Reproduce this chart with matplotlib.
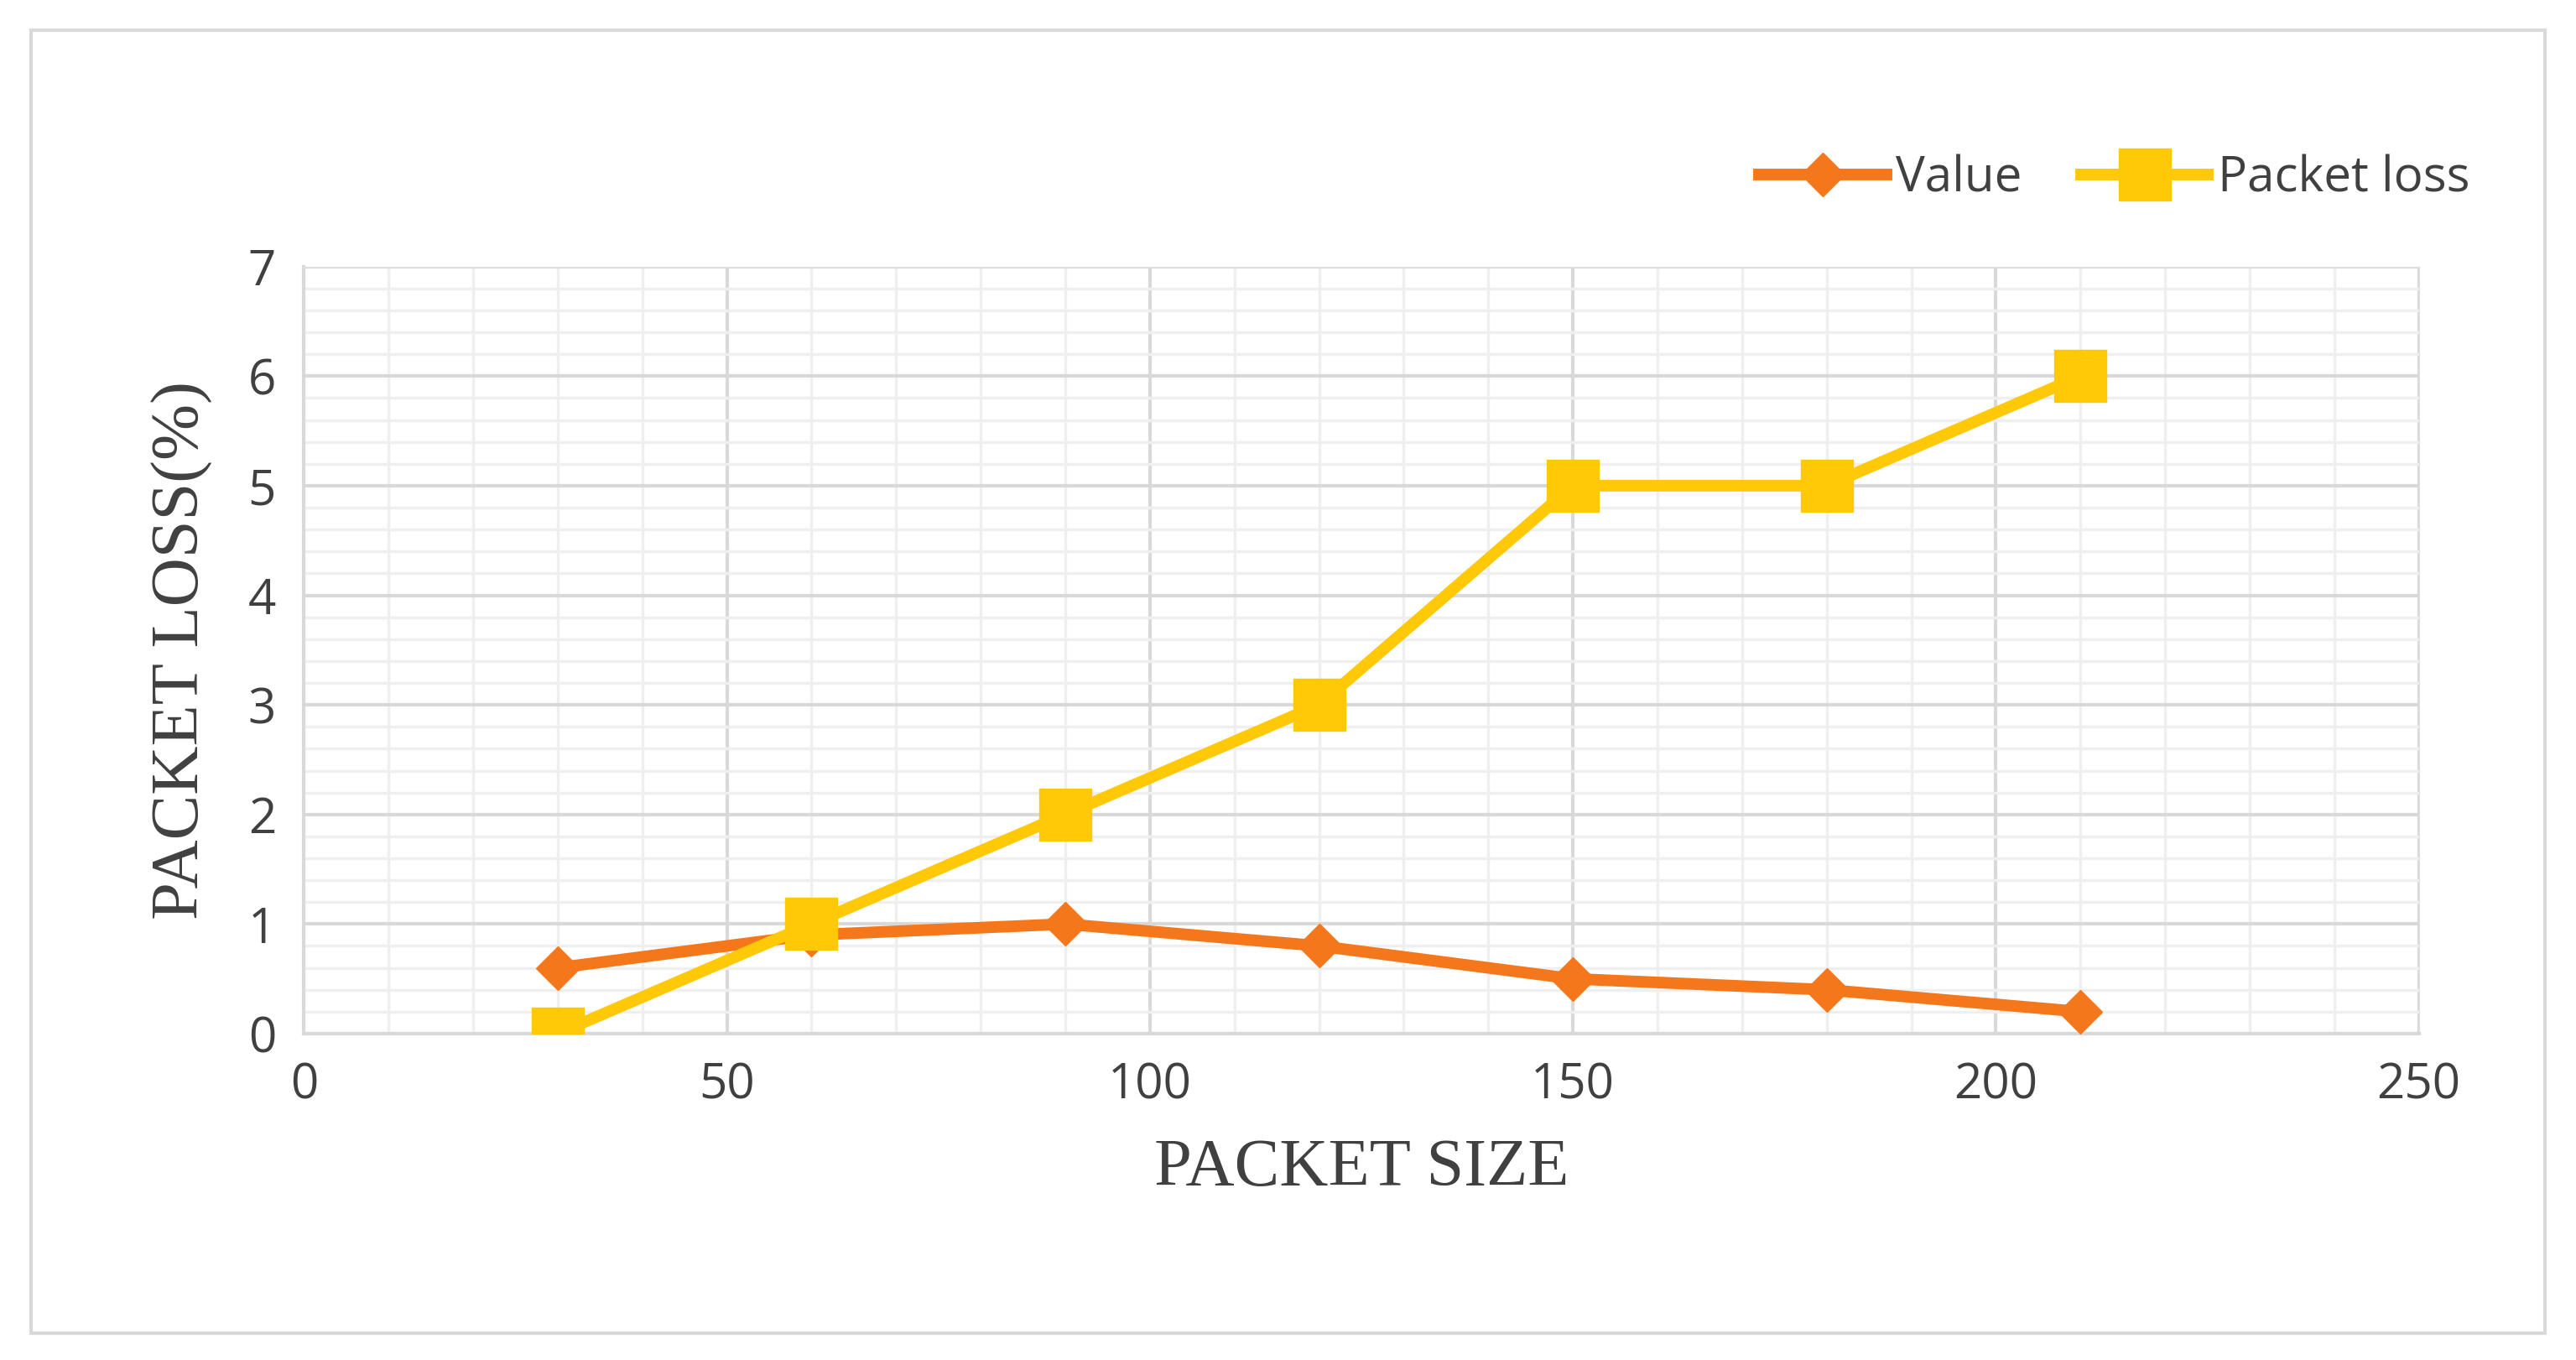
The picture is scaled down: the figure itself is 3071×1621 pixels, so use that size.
import matplotlib.pyplot as plt
from matplotlib.patches import Rectangle
from matplotlib.ticker import MultipleLocator

packet_size = [30, 60, 90, 120, 150, 180, 210]
value = [0.6, 0.9, 1.0, 0.8, 0.5, 0.4, 0.2]
packet_loss = [0, 1, 2, 3, 5, 5, 6]

fig = plt.figure(figsize=(30.71, 16.21), dpi=100)
fig.patches.append(Rectangle((0.012, 0.02), 0.976, 0.958, transform=fig.transFigure,
                             fill=False, edgecolor='#d9d9d9', lw=3))
ax = fig.add_axes([0.118, 0.240, 0.821, 0.564])

ax.plot(packet_size, value, '-D', color='#F5771B', lw=10, ms=26, label='Value', zorder=3)
ax.plot(packet_size, packet_loss, '-s', color='#FFC907', lw=10, ms=44, label='Packet loss', zorder=4)

ax.set_xlim(0, 250)
ax.set_ylim(0, 7)
ax.xaxis.set_major_locator(MultipleLocator(50))
ax.xaxis.set_minor_locator(MultipleLocator(10))
ax.yaxis.set_major_locator(MultipleLocator(1))
ax.yaxis.set_minor_locator(MultipleLocator(0.2))
ax.grid(True, which='major', color='#d9d9d9', lw=3)
ax.grid(True, which='minor', color='#efefef', lw=2.5)
ax.set_axisbelow(True)
for s in ['top', 'right']:
    ax.spines[s].set_color('#e0e0e0')
for s in ['left', 'bottom']:
    ax.spines[s].set_color('#d9d9d9')
    ax.spines[s].set_linewidth(3)
ax.tick_params(which='both', length=0, labelsize=42, labelcolor='#404040', pad=24)
for t in ax.get_xticklabels() + ax.get_yticklabels():
    t.set_family('Open Sans')

ax.set_xlabel('PACKET SIZE', family='Liberation Serif', fontsize=58, color='#404040', labelpad=24)
ax.set_ylabel('PACKET LOSS(%)', family='Liberation Serif', fontsize=58, color='#404040', labelpad=30)

leg = ax.legend(loc='lower right', bbox_to_anchor=(1.045, 1.025), ncol=2, frameon=False,
                prop={'family': 'Open Sans', 'size': 42}, handlelength=2.6,
                columnspacing=1.2, handletextpad=0.2)
for t in leg.get_texts():
    t.set_color('#404040')

fig.savefig('out.png', dpi=100)
